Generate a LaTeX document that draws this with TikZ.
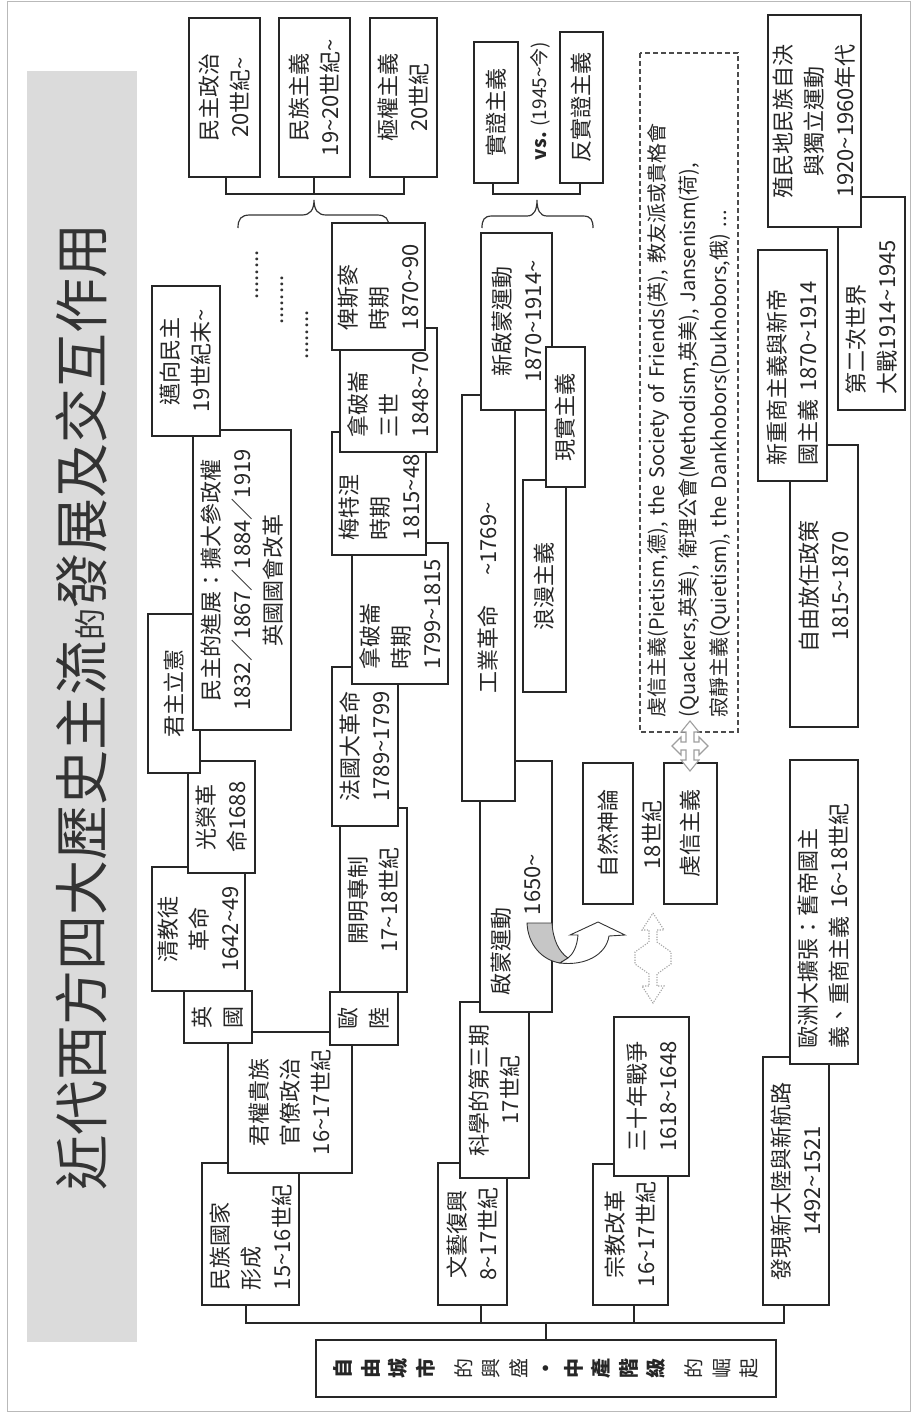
\documentclass[tikz,border=0pt]{standalone}
\usepackage{fontspec}
\setmainfont{Noto Sans CJK TC}
\newcommand\tld{\textasciitilde}
\newcommand\mybox[7][]{%
  \pgfmathsetmacro\bxW{#6-#4}%
  \pgfmathsetmacro\bxH{#5-#3}%
  \node[box,minimum width=\bxW pt,minimum height=\bxH pt,#1] (#2) at ({(#3+#5)/2},{(#4+#6)/2}) {#7};}
\newcommand\lbx[7][]{%
  \pgfmathsetmacro\bxW{#6-#4}%
  \pgfmathsetmacro\bxH{#5-#3}%
  \pgfmathsetmacro\bxT{#6-#4-30}%
  \node[box,minimum width=\bxW pt,minimum height=\bxH pt,text width=\bxT pt,align=left,inner xsep=15pt,#1] (#2) at ({(#3+#5)/2},{(#4+#6)/2}) {#7};}
\tikzset{
  box/.style={draw=black!85, fill=white, rotate=90, line width=1.1pt, inner sep=0pt,
    align=center, font=\fontsize{22}{31}\selectfont, text=black!85},
  titlebar/.style={draw=none, fill=gray!28, font=\fontsize{55}{60}\selectfont, text=black!80},
  rootbox/.style={font=\fontsize{20}{27.5}\selectfont},
  dashbox/.style={dashed, dash pattern=on 5pt off 3pt, draw=black!70},
  conn/.style={draw=black!85, line width=1.4pt},
  rootline/.style={draw=black!85, line width=1.9pt},
  brace/.style={draw=black!80, line width=1.2pt},
  freetext/.style={rotate=90, inner sep=0pt, font=\fontsize{22}{26}\selectfont, text=black!85},
  dotsty/.style={rotate=90, inner sep=0pt, font=\fontsize{22}{22}\selectfont, text=black!80},
  quad/.style={fill=white, draw=gray!75, line width=1.1pt},
  dotarrow/.style={draw=gray!70, line width=1.1pt, dash pattern=on 1.2pt off 1.4pt},
}
\begin{document}
\begin{tikzpicture}[x=1pt,y=-1pt]
\useasboundingbox (0,0) rectangle (912,1413);
\draw[gray!55, line width=1pt] (7,1.5) rectangle (910.5,1411);

% title
\mybox[titlebar]{title}{27}{71}{137}{1342}{近代西方四大歷史主流{\fontsize{32}{32}\selectfont 的}發展及交互作用}

% ideologies
\mybox{mzzz}{189}{18}{260}{177}{民主政治\\20世紀\tld}
\mybox{mzzy}{279}{18}{350}{177}{民族主義\\19\tld 20世紀\tld}
\mybox{jqzy}{370}{18}{437}{177}{極權主義\\20世紀}
\coordinate (ia) at (226,194);
\coordinate (ib) at (314,194);
\coordinate (ic) at (404,194);
\draw[conn] (mzzz.west -| ia) -- (ia) -- (ic) -- (jqzy.west -| ic);
\draw[conn] (mzzy.west -| ib) -- (ib);
\draw[brace] (238,228) .. controls (238,219) and (241,215) .. (250,215) -- (302,215)
  .. controls (310,215) and (314,210) .. (314,200) .. controls (314,210) and (318,215) .. (326,215)
  -- (377,215) .. controls (386,215) and (389,219) .. (389,228);

\mybox{szzy}{474}{42}{518}{183}{實證主義}
\mybox{fszy}{560}{32}{603}{183}{反實證主義}
\node[freetext, font=\fontsize{19}{22}\selectfont] (vs) at (540,101) {\textbf{vs.} (1945\tld 今)};
\coordinate (sa) at (493,194);
\coordinate (sb) at (580,194);
\draw[conn] (szzy.west -| sa) -- (sa) -- (sb) -- (fszy.west -| sb);
\draw[brace] (482,228) .. controls (482,220) and (484,216) .. (492,216) -- (527,216)
  .. controls (534,216) and (537,210) .. (537,200) .. controls (537,210) and (540,216) .. (547,216)
  -- (583,216) .. controls (591,216) and (593,220) .. (593,228);

% ellipses
\node[dotsty] (d1) at (257,275) {........};
\node[dotsty] (d2) at (282,300) {........};
\node[dotsty] (d3) at (307,335) {........};

% nation-state chain
\lbx[inner xsep=12pt]{mzgj}{202}{1163}{299}{1305}{民族國家\\形成\\15\tld 16世紀}
\mybox{jq}{228}{1032}{352}{1173}{君權貴族\\官僚政治\\16\tld 17世紀}
\mybox{yg}{184}{991}{252}{1043}{英\\國}
\mybox{qjt}{152}{867}{245}{991}{清教徒\\革命\\1642\tld 49}
\mybox{grgm}{188}{761}{255}{873}{光榮革\\命1688}
\mybox{jzlx}{148}{614}{200}{773}{君主立憲}
\mybox{mzjz}{193}{430}{291}{730}{民主的進展：擴大參政權\\1832／1867／1884／1919\\英國國會改革}
\mybox{mxmz}{152}{286}{220}{436}{邁向民主\\19世紀末\tld}

\mybox{ol}{330}{992}{398}{1045}{歐\\陸}
\mybox{kmzz}{340}{808}{407}{992}{開明專制\\17\tld 18世紀}
\mybox{fg}{332}{667}{398}{826}{法國大革命\\1789\tld 1799}
\lbx{nplA}{352}{543}{448}{684}{拿破崙\\時期\\1799\tld 1815}
\lbx{mtn}{332}{432}{426}{555}{梅特涅\\時期\\1815\tld 48}
\lbx{npl}{340}{328}{437}{452}{拿破崙\\三世\\1848\tld 70}
\lbx[inner xsep=20pt]{bsm}{332}{228}{425}{345}{俾斯麥\\時期\\1870\tld 90}

% renaissance chain
\mybox{wyfx}{438}{1163}{507}{1305}{文藝復興\\8\tld 17世紀}
\mybox{kx}{460}{1002}{529}{1178}{科學的第三期\\17世紀}
\lbx[inner xsep=17pt]{qm}{480}{763}{552}{1010}{啟蒙運動\\\hspace*{80pt}1650\tld}
\mybox{gy}{462}{395}{515}{801}{工業革命\hspace{30pt}\tld 1769\tld}
\mybox{xqm}{481}{233}{552}{410}{新啟蒙運動\\1870\tld 1914\tld}
\mybox{lm}{523}{480}{566}{692}{浪漫主義}
\mybox{xs}{546}{347}{585}{487}{現實主義}

% curved arrow
\filldraw[fill=gray!45, draw=black!80, line width=0.9pt] (527,923) -- (552,923)
  .. controls (553,940) and (559,952) .. (568,958) -- (560,963)
  .. controls (542,960) and (528,945) .. (527,923) -- cycle;
\filldraw[fill=white, draw=black!80, line width=0.9pt] (560,963)
  .. controls (585,966) and (606,955) .. (609,936) -- (625,935) -- (598,922) -- (570,935) -- (578,935)
  .. controls (577,947) and (573,954) .. (568,958) -- cycle;

% 18th century
\mybox{zr}{583}{763}{633}{904}{自然神論}
\node[freetext] (c18) at (652,835) {18世紀};
\mybox{qx}{664}{763}{717}{904}{虔信主義}
\lbx[dashbox, inner xsep=14pt, font=\fontsize{20}{31}\selectfont]{pie}{640}{53}{738}{732}{%
\mbox{虔信主義(Pietism,德), the Society of Friends(英), 教友派或貴格會}\\
\mbox{(Quackers,英美), 衛理公會(Methodism,英美), Jansenism(荷),}\\
\mbox{寂靜主義(Quietism), the Dankhobors(Dukhobors,俄) ...}}
\begin{scope}[shift={(690,746)}]
\draw[quad] (0,-25) -- (9,-14) -- (4,-14) -- (4,-4) -- (9,-4) -- (9,-9) -- (18,0) -- (9,9) -- (9,4)
  -- (4,4) -- (4,14) -- (9,14) -- (0,25) -- (-9,14) -- (-4,14) -- (-4,4) -- (-9,4) -- (-9,9)
  -- (-18,0) -- (-9,-9) -- (-9,-4) -- (-4,-4) -- (-4,-14) -- (-9,-14) -- cycle;
\end{scope}
\begin{scope}[shift={(653,958)}]
\draw[dotarrow] (0,-45) -- (11,-28) -- (4,-28) -- (4,-16) -- (18,-6) -- (18,6) -- (4,16) -- (4,28)
  -- (11,28) -- (0,45) -- (-11,28) -- (-4,28) -- (-4,16) -- (-18,6) -- (-18,-6) -- (-4,-16)
  -- (-4,-28) -- (-11,-28) -- cycle;
\end{scope}

% reformation chain
\mybox{zjgg}{593}{1164}{668}{1305}{宗教改革\\16\tld 17世紀}
\mybox{ssn}{614}{1017}{689}{1176}{三十年戰爭\\1618\tld 1648}

% discovery chain
\mybox{fx}{763}{1057}{829}{1305}{發現新大陸與新航路\\1492\tld 1521}
\lbx[inner xsep=16pt]{oz}{790}{761}{858}{1063}{歐洲大擴張：舊帝國主\\義、重商主義 16\tld 18世紀}
\mybox{zyfr}{790}{445}{858}{727}{自由放任政策\\1815\tld 1870}
\lbx[inner xsep=16pt]{xzs}{758}{251}{827}{480}{新重商主義與新帝\\國主義 1870\tld 1914}
\lbx[inner xsep=16pt]{dec}{838}{198}{905}{409}{第二次世界\\大戰1914\tld 1945}
\mybox{zmd}{768}{15}{861}{227}{殖民地民族自決\\與獨立運動\\1920\tld 1960年代}

% root
\mybox[rootbox]{root}{316}{1340}{776}{1397}{\textbf{自}\\\textbf{由}\\\textbf{城}\\\textbf{市}\\[10.5pt]的\\興\\盛\\\textbf{・}\\\textbf{中}\\\textbf{產}\\\textbf{階}\\\textbf{級}\\[10.5pt]的\\崛\\起}
\coordinate (r1) at (246,1323);
\coordinate (r2) at (481,1323);
\coordinate (r3) at (634,1323);
\coordinate (r4) at (784,1323);
\draw[rootline] (mzgj.west -| r1) -- (r1) -- (r4) -- (fx.west -| r4);
\draw[rootline] (wyfx.west -| r2) -- (r2);
\draw[rootline] (zjgg.west -| r3) -- (r3);
\draw[rootline] (root.east) -- (root.east |- r1);
\end{tikzpicture}
\end{document}
